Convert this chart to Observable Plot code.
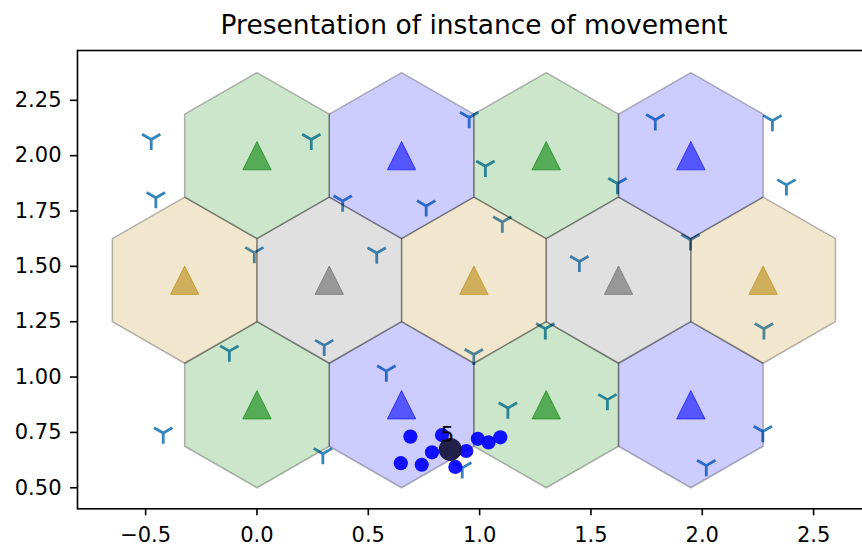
<!DOCTYPE html>
<html>
<head>
<meta charset="utf-8">
<script src="https://cdn.jsdelivr.net/npm/d3@7"></script>
<script src="https://cdn.jsdelivr.net/npm/@observablehq/plot@0.6"></script>
<style>
  html, body { margin: 0; padding: 0; background: #fff; overflow: hidden; width: 862px; height: 546px; }
  #wrap { position: relative; width: 880px; height: 546px; }
  #title { position: absolute; left: 77px; width: 794px; top: 12px; text-align: center;
           font-family: "DejaVu Sans", sans-serif; font-size: 26.5px; line-height: 26.5px; color: #000; white-space: nowrap; }
  #chart { position: absolute; left: 0; top: 40px; }
</style>
</head>
<body>
<div id="wrap">
  <div id="title">Presentation of instance of movement</div>
  <div id="chart"></div>
</div>
<script>
// ---- data ----
const hexRadius = 0.375;
const hexX = [0, 0.6495, 1.299, 1.9486, -0.3248, 0.3248, 0.9743, 1.6238, 2.2733, 0, 0.6495, 1.299, 1.9486];
const hexY = [0.875, 0.875, 0.875, 0.875, 1.4375, 1.4375, 1.4375, 1.4375, 1.4375, 2.0, 2.0, 2.0, 2.0];
const hexKind = ["green", "blue", "green", "blue", "tan", "gray", "tan", "gray", "tan", "green", "blue", "green", "blue"];

const sensorX = [-0.475, -0.454, -0.012, 0.244, 0.953, 1.026, 0.385, 0.760, 1.102, 0.538, 1.448, 1.789, 2.315, 2.378, 1.619,
                 1.947, -0.124, -0.421, 0.302, 0.581, 0.974, 1.295, 1.127, 0.296, 0.922, 2.277, 1.574, 2.272, 2.018];
const sensorY = [2.073, 1.810, 1.562, 2.073, 2.172, 1.952, 1.795, 1.773, 1.700, 1.560, 1.522, 2.162, 2.158, 1.868, 1.874,
                 1.620, 1.117, 0.747, 1.143, 1.027, 1.102, 1.218, 0.860, 0.654, 0.590, 1.218, 0.898, 0.754, 0.600];

const dotX = [0.689, 0.831, 0.786, 0.646, 0.740, 0.891, 0.940, 0.992, 1.040, 1.093];
const dotY = [0.731, 0.738, 0.660, 0.611, 0.604, 0.594, 0.666, 0.721, 0.705, 0.728];

const agentX = [0.868];
const agentY = [0.673];
const agentLabel = ["5"];
const labelX = [0.856];
const labelY = [0.738];

const xTicks = [-0.5, 0.0, 0.5, 1.0, 1.5, 2.0, 2.5];
const yTicks = [0.5, 0.75, 1.0, 1.25, 1.5, 1.75, 2.0, 2.25];

const kindFill = {green: "#008000", blue: "#0000ff", tan: "#b8860b", gray: "#646464"};

// ---- tables built from the arrays ----
const hexes = hexX.map((x, i) => ({id: i, x, y: hexY[i], kind: hexKind[i]}));
const hexVerts = [];
hexes.forEach(h => {
  for (let k = 0; k < 6; k++) {
    const a = Math.PI / 2 + k * Math.PI / 3;
    hexVerts.push({id: h.id, kind: h.kind, x: h.x + hexRadius * Math.cos(a), y: h.y + hexRadius * Math.sin(a)});
  }
});
const sensors = sensorX.map((x, i) => ({x, y: sensorY[i]}));
const dots = dotX.map((x, i) => ({x, y: dotY[i]}));
const agents = agentX.map((x, i) => ({x, y: agentY[i]}));
const labels = labelX.map((x, i) => ({x, y: labelY[i], t: agentLabel[i]}));

// custom symbols
const triDown = {
  draw(ctx, size) {
    const r = Math.sqrt(size / Math.PI);
    const c = Math.cos(Math.PI / 6), s = Math.sin(Math.PI / 6);
    ctx.moveTo(0, 0); ctx.lineTo(0, r);
    ctx.moveTo(0, 0); ctx.lineTo(-r * c, -r * s);
    ctx.moveTo(0, 0); ctx.lineTo(r * c, -r * s);
  }
};
const triUp = {
  draw(ctx, size) {
    const h = Math.sqrt(size / Math.PI);
    ctx.moveTo(0, -h); ctx.lineTo(-h, h); ctx.lineTo(h, h); ctx.closePath();
  }
};

const kinds = ["green", "blue", "tan", "gray"];
const hexMarks = kinds.map(kd => Plot.line(hexVerts.filter(d => d.kind === kd), {
  x: "x", y: "y", z: "id", curve: "linear-closed",
  fill: kindFill[kd], fillOpacity: 0.2, stroke: "#000", strokeOpacity: 0.28, strokeWidth: 1.5
}));
const triMarks = kinds.map(kd => Plot.dot(hexes.filter(d => d.kind === kd), {
  x: "x", y: "y", r: 14.2, symbol: triUp,
  fill: kindFill[kd], fillOpacity: 0.58, stroke: kindFill[kd], strokeOpacity: 0.6, strokeWidth: 1
}));

const chart = Plot.plot({
  width: 880, height: 506,
  marginLeft: 77, marginRight: 9, marginTop: 10, marginBottom: 37.7,
  style: {fontFamily: "DejaVu Sans, sans-serif", fontSize: "21px", color: "#000", background: "#fff"},
  x: {domain: [-0.806, 2.76]},
  y: {domain: [0.405, 2.475]},
  marks: [
    Plot.dot(sensors, {x: "x", y: "y", r: 10.6, symbol: triDown, fill: "none", stroke: "#1f77b4", strokeOpacity: 0.9, strokeWidth: 2.8}),
    ...hexMarks,
    ...triMarks,
    Plot.dot(dots, {x: "x", y: "y", r: 7.1, fill: "#0000ff", fillOpacity: 0.92, stroke: "none"}),
    Plot.dot(agents, {x: "x", y: "y", r: 11.5, fill: "#16163f", fillOpacity: 0.95, stroke: "none"}),
    Plot.text(labels, {x: "x", y: "y", text: "t", fontSize: 21, fill: "#000"}),
    Plot.frame({stroke: "#000", strokeWidth: 1.6}),
    Plot.axisX({ticks: xTicks, tickFormat: d => d.toFixed(1).replace("-", "\u2212"), tickSize: 7, tickPadding: 11,
                strokeWidth: 1.6, fontSize: 21, label: null}),
    Plot.axisY({ticks: yTicks, tickFormat: d => d.toFixed(2), tickSize: 7, tickPadding: 9,
                strokeWidth: 1.6, fontSize: 21, label: null})
  ]
});
document.getElementById("chart").appendChild(chart);
</script>
</body>
</html>
